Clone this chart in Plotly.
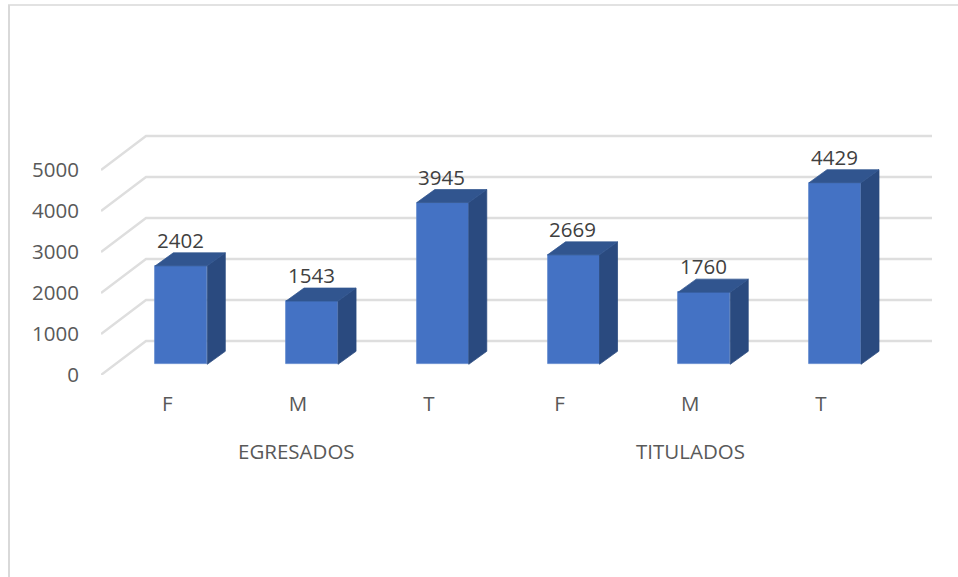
import plotly.graph_objects as go

# ---- data ----
groups = ["EGRESADOS", "TITULADOS"]
categories = ["F", "M", "T", "F", "M", "T"]
values = [2402, 1543, 3945, 2669, 1760, 4429]
y_ticks = [0, 1000, 2000, 3000, 4000, 5000]

# ---- geometry of the pseudo-3D look, in pixels of the 958x577 page ----
W, H = 958, 577
PLOT_L, PLOT_R, PLOT_T, PLOT_B = 101, 932, 120, 375
PX_PER_CAT = 130.74
PX_PER_UNIT = 0.041
FIRST_CAT_PX = 181.3
FLOOR_PX = 364.3
BAR_W = 52 / PX_PER_CAT
BAR_DX, BAR_DY = 18 / PX_PER_CAT, 13 / PX_PER_UNIT
WALL_DX, WALL_DY = 45 / PX_PER_CAT, 34 / PX_PER_UNIT

BLUE, BLUE_SIDE, BLUE_TOP, BLUE_EDGE = "#4472C4", "#2A4A7F", "#31558F", "#5B84CC"
GRID = "#DEDEDE"
FONT = "Open Sans"
TEXT_SIZE = 20.5

x_range = [(PLOT_L - FIRST_CAT_PX) / PX_PER_CAT, (PLOT_R - FIRST_CAT_PX) / PX_PER_CAT]
y_span = (PLOT_B - PLOT_T) / PX_PER_UNIT
y2_low = -(PLOT_B - FLOOR_PX) / PX_PER_UNIT

xs = list(range(len(values)))
fig = go.Figure()

# wall gridlines: diagonal on the left wall, then across the back wall
for t in y_ticks:
    fig.add_trace(go.Scatter(
        x=[x_range[0], x_range[0] + WALL_DX, x_range[1]],
        y=[t, t + WALL_DY, t + WALL_DY],
        mode="lines", line=dict(color=GRID, width=2.4),
        hoverinfo="skip", showlegend=False, yaxis="y", cliponaxis=False))

# front faces
fig.add_trace(go.Bar(
    x=xs, y=values, width=BAR_W, yaxis="y2", showlegend=False,
    marker=dict(color=BLUE, line=dict(color=BLUE_EDGE, width=0.75))))

# side and top faces derived from each value
for x, v in zip(xs, values):
    left, right = x - BAR_W / 2, x + BAR_W / 2
    fig.add_trace(go.Scatter(
        x=[right, right + BAR_DX, right + BAR_DX, right, right],
        y=[0, BAR_DY, v + BAR_DY, v, 0],
        mode="lines", fill="toself", fillcolor=BLUE_SIDE,
        line=dict(color=BLUE_SIDE, width=0.75),
        hoverinfo="skip", showlegend=False, yaxis="y2", cliponaxis=False))
    fig.add_trace(go.Scatter(
        x=[left, left + BAR_DX, right + BAR_DX, right, left],
        y=[v, v + BAR_DY, v + BAR_DY, v, v],
        mode="lines", fill="toself", fillcolor=BLUE_TOP,
        line=dict(color=BLUE_TOP, width=0.75),
        hoverinfo="skip", showlegend=False, yaxis="y2", cliponaxis=False))

annotations = []
for x, v in zip(xs, values):
    annotations.append(dict(
        x=x, y=v, xref="x", yref="y2", xshift=-1, yshift=26, text=str(v), showarrow=False,
        xanchor="center", yanchor="middle",
        font=dict(family=FONT, size=TEXT_SIZE, color="#404040")))

n = len(categories) // len(groups)
tick_shift = -14 / PX_PER_CAT
for g, name in enumerate(groups):
    centre = sum(xs[g * n:(g + 1) * n]) / n + tick_shift
    annotations.append(dict(
        x=centre - (1.5 / PX_PER_CAT if g == 0 else 0), y=-76 / (PLOT_B - PLOT_T),
        xref="x", yref="paper", text=name, showarrow=False,
        xanchor="center", yanchor="middle",
        font=dict(family=FONT, size=TEXT_SIZE, color="#595959")))

pw, ph = PLOT_R - PLOT_L, PLOT_B - PLOT_T
def px(v): return (v - PLOT_L) / pw
def py(v): return (PLOT_B - v) / ph

fig.update_layout(
    width=W, height=H,
    margin=dict(l=PLOT_L, r=W - PLOT_R, t=PLOT_T, b=H - PLOT_B, pad=0),
    paper_bgcolor="white", plot_bgcolor="white",
    showlegend=False, bargap=0,
    font=dict(family=FONT, color="#595959", size=TEXT_SIZE),
    xaxis=dict(range=x_range, tickmode="array",
               tickvals=[x + tick_shift for x in xs], ticktext=categories,
               showgrid=False, zeroline=False, showline=False, ticks="",
               ticklabelstandoff=14,
               tickfont=dict(family=FONT, size=TEXT_SIZE, color="#595959")),
    yaxis=dict(range=[0, y_span], tickmode="array", tickvals=y_ticks,
               ticktext=[str(t) for t in y_ticks],
               showgrid=False, zeroline=False, showline=False, ticks="",
               ticklabelstandoff=21,
               tickfont=dict(family=FONT, size=TEXT_SIZE, color="#595959")),
    yaxis2=dict(range=[y2_low, y2_low + y_span], overlaying="y", side="left",
                visible=False),
    annotations=annotations,
    shapes=[
        dict(type="line", xref="paper", yref="paper", layer="below",
             x0=px(9), x1=px(9), y0=py(5), y1=py(H),
             line=dict(color="#D9D9D9", width=2)),
        dict(type="line", xref="paper", yref="paper", layer="below",
             x0=px(8), x1=px(W), y0=py(5), y1=py(5),
             line=dict(color="#D9D9D9", width=1.5)),
    ],
)

fig.write_html("out.html", config={"displayModeBar": False},
               post_script="document.body.style.margin='0';")
